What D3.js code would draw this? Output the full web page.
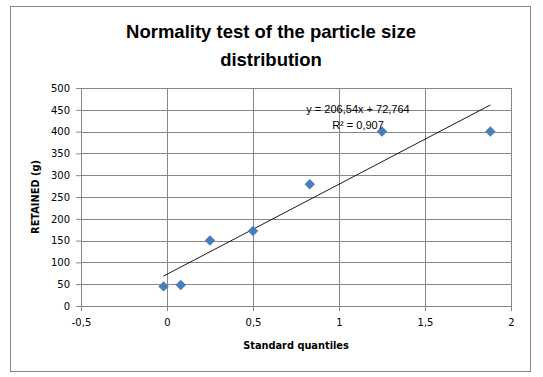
<!DOCTYPE html>
<html>
<head>
<meta charset="utf-8">
<script src="https://cdn.jsdelivr.net/npm/d3@7"></script>
<style>
  body { margin: 0; background: #fff; }
</style>
</head>
<body>
<div id="chart"></div>
<script>
// Data
const quantiles = [-0.02, 0.08, 0.25, 0.5, 0.83, 1.25, 1.88];
const retained = [45, 48, 150, 172, 279, 400, 400];
const xTicks = [-0.5, 0, 0.5, 1, 1.5, 2];
const yTicks = [0, 50, 100, 150, 200, 250, 300, 350, 400, 450, 500];
const slope = 206.54;
const intercept = 72.764;
const r2 = "0,907";

const width = 543;
const height = 377;
const marginTop = 88;
const marginRight = 32;
const marginBottom = 71;
const marginLeft = 81;

const fmt = v => String(v).replace(".", ",");

const x = d3.scaleLinear()
  .domain([-0.5, 2])
  .range([marginLeft, width - marginRight]);

const y = d3.scaleLinear()
  .domain([0, 500])
  .range([height - marginBottom, marginTop]);

const svg = d3.create("svg")
  .attr("width", width)
  .attr("height", height)
  .attr("viewBox", [0, 0, width, height]);

d3.select("#chart").append(() => svg.node());

// Outer chart border
svg.append("rect")
  .attr("x", 10.5).attr("y", 6.5)
  .attr("width", 520).attr("height", 365)
  .attr("fill", "#fff")
  .attr("stroke", "#868686");

// Title
svg.append("text")
  .attr("x", 271).attr("y", 38)
  .attr("text-anchor", "middle")
  .attr("font-family", "Liberation Sans, Arial, sans-serif")
  .attr("font-weight", "bold")
  .attr("font-size", 18.5)
  .text("Normality  test of the particle size");
svg.append("text")
  .attr("x", 271).attr("y", 66)
  .attr("text-anchor", "middle")
  .attr("font-family", "Liberation Sans, Arial, sans-serif")
  .attr("font-weight", "bold")
  .attr("font-size", 18.5)
  .text("distribution");

// Grid lines
svg.append("g")
  .attr("stroke", "#878787")
  .attr("shape-rendering", "crispEdges")
  .call(g => g.selectAll("line.h")
    .data(yTicks)
    .join("line")
    .attr("x1", marginLeft)
    .attr("x2", width - marginRight)
    .attr("y1", d => Math.round(y(d)) + 0.5)
    .attr("y2", d => Math.round(y(d)) + 0.5))
  .call(g => g.selectAll("line.v")
    .data(xTicks)
    .join("line")
    .attr("y1", marginTop)
    .attr("y2", height - marginBottom)
    .attr("x1", d => Math.round(x(d)) + 0.5)
    .attr("x2", d => Math.round(x(d)) + 0.5));

// Y axis
svg.append("g")
  .attr("transform", `translate(${marginLeft},0)`)
  .call(d3.axisLeft(y).tickValues(yTicks).tickSize(5).tickPadding(6).tickFormat(fmt))
  .call(g => g.selectAll("line, path").attr("stroke", "#878787"))
  .call(g => g.selectAll("text")
    .attr("fill", "#000")
    .attr("font-family", "DejaVu Sans, Verdana, sans-serif")
    .attr("font-size", 10));

// X axis
svg.append("g")
  .attr("transform", `translate(0,${height - marginBottom})`)
  .call(d3.axisBottom(x).tickValues(xTicks).tickSize(5).tickPadding(8).tickFormat(fmt))
  .call(g => g.selectAll("line, path").attr("stroke", "#878787"))
  .call(g => g.selectAll("text")
    .attr("fill", "#000")
    .attr("font-family", "DejaVu Sans, Verdana, sans-serif")
    .attr("font-size", 10));

// Axis titles
svg.append("text")
  .attr("x", (marginLeft + width - marginRight) / 2)
  .attr("y", 349)
  .attr("text-anchor", "middle")
  .attr("font-family", "DejaVu Sans, Verdana, sans-serif")
  .attr("font-weight", "bold")
  .attr("font-size", 9.8)
  .text("Standard quantiles");

svg.append("text")
  .attr("transform", `translate(39,${(marginTop + height - marginBottom) / 2}) rotate(-90)`)
  .attr("text-anchor", "middle")
  .attr("font-family", "DejaVu Sans, Verdana, sans-serif")
  .attr("font-weight", "bold")
  .attr("font-size", 9.8)
  .text("RETAINED  (g)");

// Linear trendline
const x0 = d3.min(quantiles), x1 = d3.max(quantiles);
svg.append("line")
  .attr("x1", x(x0)).attr("y1", y(slope * x0 + intercept))
  .attr("x2", x(x1)).attr("y2", y(slope * x1 + intercept))
  .attr("stroke", "#000")
  .attr("stroke-width", 0.9);

// Diamond markers
const diamond = d3.symbol().type(d3.symbolDiamond2).size(70);
svg.append("g")
  .attr("fill", "#4a7ebb")
  .selectAll("path")
  .data(quantiles.map((q, i) => [q, retained[i]]))
  .join("path")
  .attr("transform", d => `translate(${x(d[0])},${y(d[1])})`)
  .attr("d", diamond);

// Trendline equation
svg.append("text")
  .attr("x", 358).attr("y", 113)
  .attr("text-anchor", "middle")
  .attr("font-family", "Liberation Sans, Arial, sans-serif")
  .attr("font-size", 11)
  .text(`y = ${fmt(slope)}x + ${fmt(intercept)}`);
svg.append("text")
  .attr("x", 358).attr("y", 129)
  .attr("text-anchor", "middle")
  .attr("font-family", "Liberation Sans, Arial, sans-serif")
  .attr("font-size", 11)
  .text(`R² = ${r2}`);
</script>
</body>
</html>
